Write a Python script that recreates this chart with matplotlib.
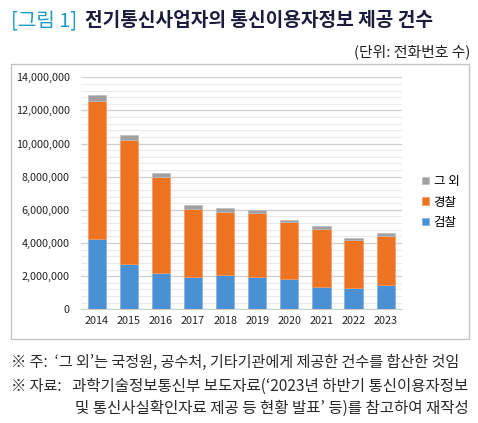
import numpy as np
import matplotlib
matplotlib.use("Agg")
import matplotlib.pyplot as plt
from matplotlib.patches import Rectangle
from matplotlib.ticker import MultipleLocator, FuncFormatter

plt.rcParams['font.family'] = ['Noto Sans CJK KR', 'DejaVu Sans']

years = ["2014", "2015", "2016", "2017", "2018", "2019", "2020", "2021", "2022", "2023"]
# 검찰 / 경찰 / 그 외 (전화번호 수)
prosecution = [4220000, 2730000, 2210000, 1930000, 2070000, 1970000, 1810000, 1350000, 1290000, 1470000]
police = [8350000, 7490000, 5790000, 4120000, 3820000, 3860000, 3440000, 3520000, 2870000, 2970000]
others = [360000, 320000, 230000, 240000, 220000, 160000, 160000, 160000, 140000, 180000]

c_blue = "#4a90d2"
c_orange = "#ee7424"
c_gray = "#a0a0a0"

W, H = 478, 423
fig = plt.figure(figsize=(W / 100, H / 100), dpi=100)

# frame round the chart
fig.patches.append(Rectangle((10.5 / W, 1 - 339 / H), (469 - 10.5) / W, (339 - 64) / H,
                             transform=fig.transFigure, fill=False, edgecolor="#c4c4c4", lw=1.0))

ax = fig.add_axes([80.7 / W, 1 - 309.3 / H, 321 / W, 232 / H])
x = np.arange(len(years))
pro = np.array(prosecution)
pol = np.array(police)
oth = np.array(others)

b1 = ax.bar(x, pro, width=0.57, color=c_blue, edgecolor="#7db3e6", lw=0.5, zorder=3, label="검찰")
b2 = ax.bar(x, pol, width=0.57, bottom=pro, color=c_orange, edgecolor="#f39a5e", lw=0.5, zorder=3, label="경찰")
b3 = ax.bar(x, oth, width=0.57, bottom=pro + pol, color=c_gray, edgecolor="#bdbdbd", lw=0.5, zorder=3, label="그 외")

ax.set_xlim(-0.5, len(years) - 0.5)
ax.set_ylim(0, 14000000)
ax.yaxis.set_major_locator(MultipleLocator(2000000))
ax.yaxis.set_minor_locator(MultipleLocator(400000))
ax.yaxis.set_major_formatter(FuncFormatter(lambda v, p: f"{int(v):,}"))
ax.grid(axis="y", which="major", color="#cfcfcf", lw=0.9, zorder=0)
ax.grid(axis="y", which="minor", color="#ebebeb", lw=0.8, zorder=0)
ax.set_xticks(x)
ax.set_xticklabels(years)
for s in ["top", "right", "left"]:
    ax.spines[s].set_visible(False)
ax.spines["bottom"].set_color("#cfcfcf")
ax.tick_params(axis="both", which="both", length=0, labelsize=7.8, colors="#222222")
ax.tick_params(axis="y", pad=8)
ax.tick_params(axis="x", pad=5)

leg = ax.legend(handles=[b3, b2, b1], loc="center left", bbox_to_anchor=(411 / W, 1 - 202 / H),
                bbox_transform=fig.transFigure, frameon=False, fontsize=9, handlelength=0.5,
                handleheight=0.5, handletextpad=0.4, labelspacing=0.6)

# titles
fig.text(11 / W, 1 - 21 / H, "[그림 1]", color="#1f9bc4", fontsize=14.5, fontweight="medium",
         va="center", ha="left")
fig.text(85 / W, 1 - 21 / H, "전기통신사업자의 통신이용자정보 제공 건수", color="#1c1c3c",
         fontsize=13.8, fontweight="heavy", va="center", ha="left")
fig.text(470 / W, 1 - 52 / H, "(단위: 전화번호 수)", color="#222222", fontsize=10.7, va="center", ha="right")

# notes
fc = "#2a2a2a"
fs = 10.9
fig.text(11 / W, 1 - 362 / H, "※ 주:  ‘그 외’는 국정원, 공수처, 기타기관에게 제공한 건수를 합산한 것임",
         color=fc, fontsize=fs, va="center", ha="left")
fig.text(11 / W, 1 - 386 / H, "※ 자료:", color=fc, fontsize=fs, va="center", ha="left")
fig.text(71.5 / W, 1 - 386 / H, "과학기술정보통신부 보도자료(‘2023년 하반기 통신이용자정보",
         color=fc, fontsize=11.2, va="center", ha="left")
fig.text(75 / W, 1 - 408.5 / H, "및 통신사실확인자료 제공 등 현황 발표’ 등)를 참고하여 재작성",
         color=fc, fontsize=11.2, va="center", ha="left")

fig.savefig("out.png", dpi=100)
